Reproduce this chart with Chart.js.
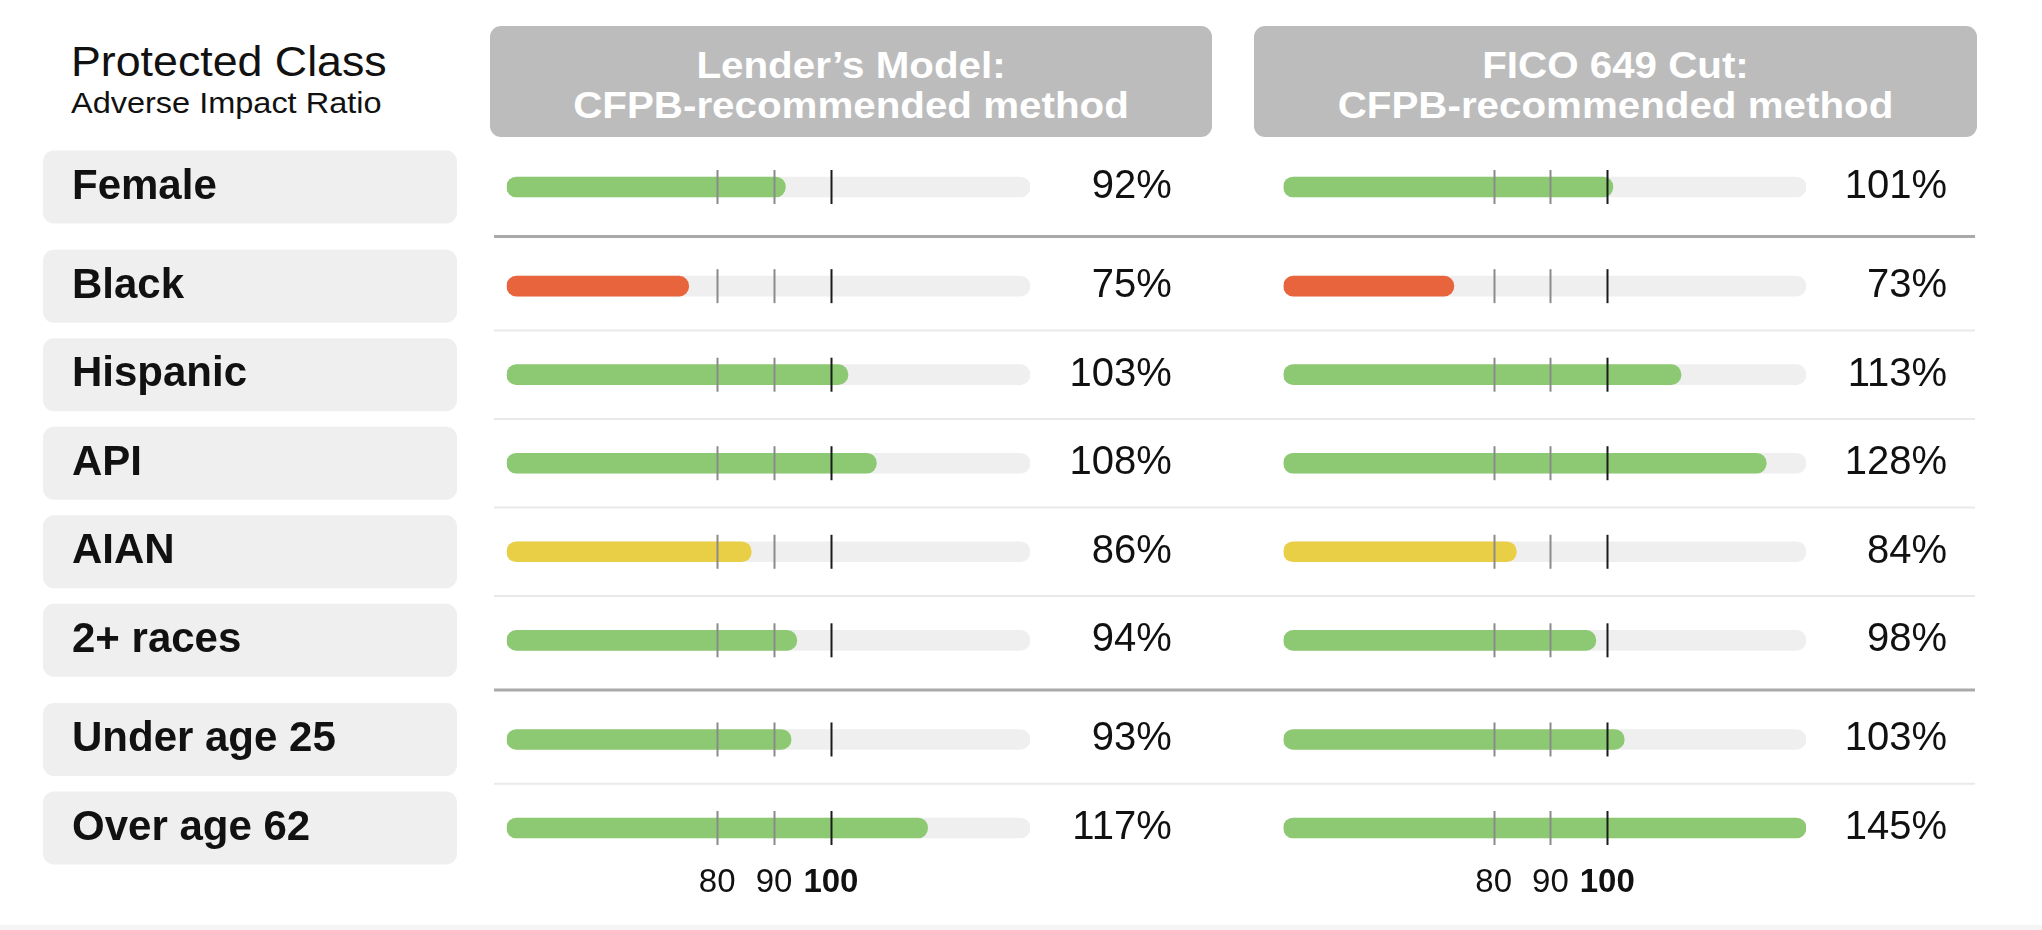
<!DOCTYPE html>
<html lang="en">
<head>
  <meta charset="UTF-8" />
  <title>Protected Class – Adverse Impact Ratio</title>
  <script src="https://cdn.jsdelivr.net/npm/chart.js"></script>
  <style>
    * {
      margin: 0;
      padding: 0;
      box-sizing: border-box;
    }
    body {
      width: 2042px;
      height: 930px;
      background: #ffffff;
      font-family: 'Liberation Sans', Arial, Helvetica, sans-serif;
      color: #111111;
      position: relative;
      overflow: hidden;
    }
    .title {
      position: absolute;
      left: 71px;
      top: 40px;
      font-size: 43px;
      line-height: 1;
      white-space: nowrap;
      transform-origin: left center;
      transform: scaleX(1.04);
    }
    .subtitle {
      position: absolute;
      left: 71px;
      top: 89px;
      font-size: 29px;
      line-height: 1;
      white-space: nowrap;
      transform-origin: left center;
      transform: scaleX(1.12);
    }
    .panel-head {
      position: absolute;
      top: 26px;
      height: 111px;
      background: #bcbcbc;
      border-radius: 11px;
      color: #ffffff;
      font-weight: bold;
      font-size: 36px;
      line-height: 40px;
      padding-top: 20px;
      text-align: center;
    }
    .panel-head span {
      display: block;
      transform: scaleX(1.12);
    }
    canvas {
      position: absolute;
      top: 0;
    }
    .bottom-strip {
      position: absolute;
      left: 0;
      top: 925px;
      width: 100%;
      height: 5px;
      background: #f5f5f5;
    }
  </style>
</head>
<body>
  <div class="title">Protected Class</div>
  <div class="subtitle">Adverse Impact Ratio</div>
  <div class="panel-head" id="head0" style="left:490px; width:722px;"></div>
  <div class="panel-head" id="head1" style="left:1254px; width:723px;"></div>

  <canvas id="lenderChart" width="1240" height="930" style="left:0;"></canvas>
  <canvas id="ficoChart" width="802" height="930" style="left:1240px;"></canvas>
  <div class="bottom-strip"></div>

  <script>
    // values
    const ROW_LABELS = ['Female', 'Black', 'Hispanic', 'API', 'AIAN', '2+ races', 'Under age 25', 'Over age 62'];
    const LENDER_VALUES = [92, 75, 103, 108, 86, 94, 93, 117];
    const FICO_VALUES = [101, 73, 113, 128, 84, 98, 103, 145];
    const TICK_VALUES = [80, 90, 100];
    const PANEL_TITLES = [
      ['Lender\u2019s Model:', 'CFPB-recommended method'],
      ['FICO 649 Cut:', 'CFPB-recommended method']
    ];
    const GROUP_BREAKS = [0, 5]; // heavy rule after these rows

    const X_MIN = 43;
    const X_MAX = 135;
    const GROUP_GAP = 0.12; // extra room (in rows) at a heavy rule

    // row index -> position on the y scale, with a little extra room after each group
    function rowPos(i) {
      return i + GROUP_GAP * GROUP_BREAKS.filter(b => b < i).length;
    }
    const LAST_ROW = rowPos(ROW_LABELS.length - 1);

    PANEL_TITLES.forEach((lines, i) => {
      document.getElementById('head' + i).innerHTML = lines.map(t => `<span>${t}</span>`).join('');
    });

    Chart.defaults.font.family = "'Liberation Sans', Arial, Helvetica, sans-serif";
    Chart.defaults.color = '#111111';

    function barColor(v) {
      if (v < 80) return '#e8643c';
      if (v < 90) return '#e9cf46';
      return '#8cc972';
    }

    const rowDecor = {
      id: 'rowDecor',
      beforeDraw(chart, args, o) {
        if (!o.boxes) return;
        const ctx = chart.ctx;
        const y = chart.scales.y;
        ctx.save();
        ctx.fillStyle = '#efefef';
        ROW_LABELS.forEach((_, i) => {
          const cy = y.getPixelForValue(rowPos(i));
          ctx.beginPath();
          ctx.roundRect(o.boxes.left, cy - 36.5, o.boxes.width, 73, 11);
          ctx.fill();
        });
        ctx.restore();
      },
      beforeDatasetsDraw(chart, args, o) {
        const ctx = chart.ctx;
        const y = chart.scales.y;
        ctx.save();
        for (let i = 0; i < ROW_LABELS.length - 1; i++) {
          const my = (y.getPixelForValue(rowPos(i)) + y.getPixelForValue(rowPos(i + 1))) / 2;
          const heavy = GROUP_BREAKS.includes(i);
          ctx.strokeStyle = heavy ? '#a9a9a9' : '#e9e9e9';
          ctx.lineWidth = heavy ? 3 : 2;
          ctx.beginPath();
          ctx.moveTo(o.lineFrom, my);
          ctx.lineTo(o.lineTo, my);
          ctx.stroke();
        }
        ctx.restore();
      },
      afterDatasetsDraw(chart) {
        const ctx = chart.ctx;
        const x = chart.scales.x;
        const y = chart.scales.y;
        ctx.save();
        ctx.lineWidth = 2;
        ROW_LABELS.forEach((_, i) => {
          const cy = y.getPixelForValue(rowPos(i));
          TICK_VALUES.forEach(t => {
            const px = Math.round(x.getPixelForValue(t)) + 0.5;
            ctx.strokeStyle = t === 100 ? '#1a1a1a' : '#8a8a8a';
            ctx.beginPath();
            ctx.moveTo(px, cy - 17);
            ctx.lineTo(px, cy + 17);
            ctx.stroke();
          });
        });
        ctx.restore();
      }
    };

    function rowAxis(position, labels, width, font, show) {
      return {
        type: 'linear',
        position: position,
        reverse: true,
        offset: false,
        bounds: 'data',
        min: 0,
        max: LAST_ROW,
        display: show,
        grid: { display: false, offset: false },
        border: { display: false },
        afterBuildTicks: s => { s.ticks = ROW_LABELS.map((_, i) => ({ value: rowPos(i) })); },
        afterFit: s => { s.width = width; },
        ticks: {
          autoSkip: false,
          crossAlign: 'far',
          padding: 0,
          color: '#111111',
          font: font,
          callback: (v, i) => labels[i]
        }
      };
    }

    function makeChart(id, values, cfg) {
      const ctx = document.getElementById(id).getContext('2d');
      const barStyle = {
        base: X_MIN,
        barThickness: 20,
        borderRadius: 10,
        borderSkipped: false,
        grouped: false,
        clip: { left: 0, right: 0, top: 20, bottom: 20 }
      };
      return new Chart(ctx, {
        type: 'bar',
        data: {
          datasets: [
            Object.assign({
              data: values.map((v, i) => ({ x: Math.min(v, X_MAX), y: rowPos(i) })),
              backgroundColor: values.map(barColor),
              order: 1
            }, barStyle),
            Object.assign({
              data: ROW_LABELS.map((_, i) => ({ x: X_MAX, y: rowPos(i) })),
              backgroundColor: '#efefef',
              order: 2
            }, barStyle)
          ]
        },
        options: {
          indexAxis: 'y',
          responsive: false,
          animation: false,
          events: [],
          layout: {
            padding: { left: cfg.padLeft, right: cfg.padRight, top: 187, bottom: 22 }
          },
          plugins: {
            legend: { display: false },
            tooltip: { enabled: false },
            rowDecor: { boxes: cfg.boxes, lineFrom: cfg.lineFrom, lineTo: cfg.lineTo }
          },
          scales: {
            x: {
              type: 'linear',
              position: 'bottom',
              min: X_MIN,
              max: X_MAX,
              grid: { display: false },
              border: { display: false },
              afterBuildTicks: s => { s.ticks = TICK_VALUES.map(v => ({ value: v })); },
              afterFit: s => { s.height = 80; },
              ticks: {
                autoSkip: false,
                maxRotation: 0,
                padding: 27,
                color: '#111111',
                font: c => ({ size: 33, weight: c.tick && c.tick.value === 100 ? 'bold' : 'normal' })
              }
            },
            y: rowAxis('left', ROW_LABELS, cfg.labelWidth, { size: 42, weight: 'bold' }, cfg.showLabels),
            y2: rowAxis('right', values.map(v => v + '%'), cfg.valueWidth, { size: 40 }, true)
          }
        },
        plugins: [rowDecor]
      });
    }

    makeChart('lenderChart', LENDER_VALUES, {
      showLabels: true,
      padLeft: 72,
      labelWidth: 434.7,
      valueWidth: 141.7,
      padRight: 68.3,
      boxes: { left: 43, width: 414 },
      lineFrom: 494,
      lineTo: 1240
    });

    makeChart('ficoChart', FICO_VALUES, {
      showLabels: false,
      padLeft: 43.5,
      labelWidth: 0,
      valueWidth: 141,
      padRight: 95,
      boxes: null,
      lineFrom: 0,
      lineTo: 735
    });
  </script>
</body>
</html>
